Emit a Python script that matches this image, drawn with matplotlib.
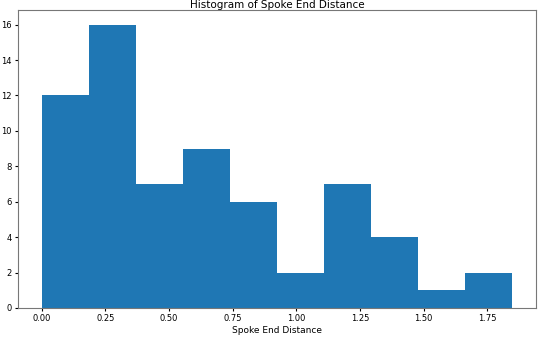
import numpy as np
import matplotlib
matplotlib.use("Agg")
import matplotlib.pyplot as plt

### histogram counts
counts = [12, 16, 7, 9, 6, 2, 7, 4, 1, 2]
data_min = 0.0
data_max = 1.848
edges = np.linspace(data_min, data_max, len(counts) + 1)

fig = plt.figure(figsize=(5.4, 3.48), dpi=100)
ax = fig.add_axes([0.0333, 0.115, 0.9593, 0.855])

ax.hist(edges[:-1], bins=edges, weights=counts, color="#1f77b4")

ax.set_title("Histogram of Spoke End Distance", fontsize=7.5, pad=1)
ax.set_xlabel("Spoke End Distance", fontsize=6.5, labelpad=2)
ax.tick_params(axis="both", labelsize=6, length=2.5, pad=2)
ax.set_yticks(range(0, 17, 2))
ax.set_xticks([0, 0.25, 0.5, 0.75, 1.0, 1.25, 1.5, 1.75])

for s in ax.spines.values():
    s.set_color("#777777")

plt.savefig("out.png")
